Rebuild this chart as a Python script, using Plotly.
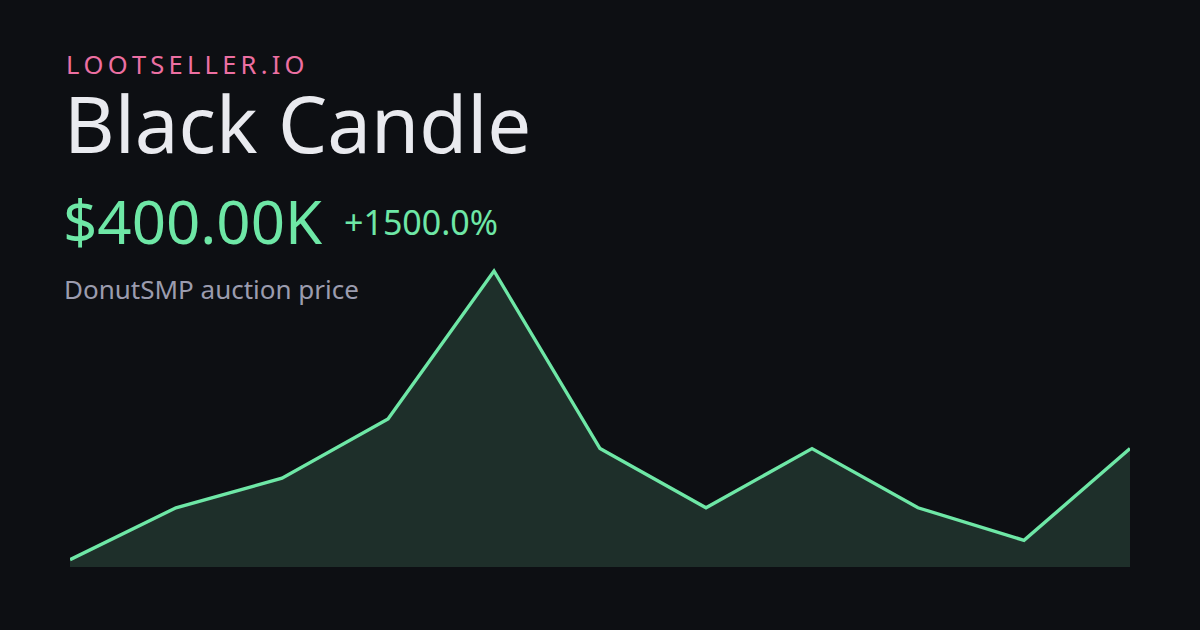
import plotly.graph_objects as go

# Data
periods = list(range(11))
prices = [25000, 200000, 300000, 500000, 1000000, 400000, 200000, 400000, 200000, 90000, 400000]

brand = "LOOTSELLER.IO"
title = "Black Candle"
price_label = "$400.00K"
change_label = "+1500.0%"
subtitle = "DonutSMP auction price"

BG = "#0d0f13"
LINE = "#6ee7a6"
FILL = "#1e2f2a"

W, H = 1200, 630
L, R, T, B = 70, 70, 250, 63
ph = H - T - B
pw = W - L - R


def px(xp):
    return (xp - L) / pw


def py(yp):
    return (H - B - yp) / ph


fig = go.Figure()
fig.add_trace(go.Scatter(
    x=periods, y=prices, mode="lines",
    line=dict(color=LINE, width=3.4),
    fill="tozeroy", fillcolor=FILL,
    hoverinfo="skip",
))

font = "Noto Sans"
spaced_brand = "\u2009".join(brand)
annotations = [
    dict(text=spaced_brand, x=px(64), y=py(64), font=dict(size=25.5, color="#ec6fa2", family=font)),
    dict(text=title, x=px(62), y=py(123), font=dict(size=78, color="#e9eaef", family=font)),
    dict(text=price_label, x=px(61), y=py(221), font=dict(size=60, color=LINE, family=font)),
    dict(text=change_label, x=px(342), y=py(222), font=dict(size=34, color=LINE, family=font)),
    dict(text=subtitle, x=px(62), y=py(289), font=dict(size=26, color="#9b9cae", family=font)),
]
for a in annotations:
    a.update(xref="paper", yref="paper", xanchor="left", yanchor="middle", showarrow=False)

fig.update_layout(
    width=W, height=H,
    margin=dict(l=L, r=R, t=T, b=B),
    paper_bgcolor=BG, plot_bgcolor=BG,
    showlegend=False,
    xaxis=dict(range=[0, 10], visible=False, fixedrange=True),
    yaxis=dict(range=[0, 1000000 * ph / 296], visible=False, fixedrange=True),
    annotations=annotations,
)

fig.write_html(
    "out.html",
    config=dict(displayModeBar=False),
    post_script="document.body.style.margin='0';document.body.style.background='" + BG + "';",
)
